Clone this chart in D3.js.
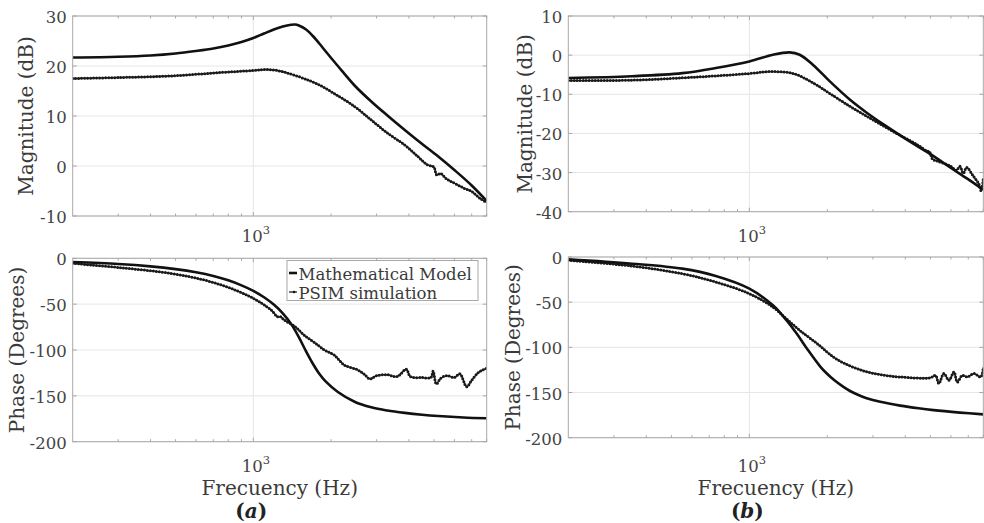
<!DOCTYPE html>
<html>
<head>
<meta charset="utf-8">
<script src="https://cdn.jsdelivr.net/npm/d3@7"></script>
<style>
  body { margin: 0; background: #fff; }
  svg { display: block; font-family: 'DejaVu Serif', serif; }
  .tick-label { fill: #444; font-size: 16.5px; }
  .ax-label { fill: #3a3a3a; font-size: 20px; }
</style>
</head>
<body>
<svg id="chart" width="984" height="523"></svg>
<script>
// frequency ticks (Hz)
const freqDomain = [200, 8000]
const minorFreqs = [300, 400, 500, 600, 700, 800, 900, 2000, 3000, 4000, 5000, 6000, 7000, 8000]
const magTicksA = [30, 20, 10, 0, -10]
const magTicksB = [10, 0, -10, -20, -30, -40]
const phaseTicks = [0, -50, -100, -150, -200]
const legendLabels = ['Mathematical Model', 'PSIM simulation']

// (a) magnitude, dB
const magModelA = [[200,21.7],[300,21.85],[400,22.1],[500,22.5],[600,23.0],[700,23.5],[800,24.1],[900,24.8],[1000,25.6],[1100,26.5],[1200,27.3],[1300,27.9],[1400,28.25],[1450,28.3],[1500,28.1],[1600,27.3],[1700,26.0],[1800,24.5],[1900,23.0],[2000,21.6],[2124,20.0],[2465,16.1],[2860,12.9],[3320,10.0],[3855,7.2],[4475,4.5],[5195,1.9],[6030,-0.9],[7000,-3.9],[8000,-7.0]]
const magPsimA = [[200,17.5],[305,17.7],[478,18.0],[747,18.7],[1000,19.1],[1115,19.3],[1238,19.1],[1395,18.4],[1570,17.5],[1770,16.4],[2055,14.5],[2465,11.9],[2860,9.2],[3320,6.5],[3855,4.2],[4330,1.9],[4730,0.2],[4900,0.0],[5000,-0.2],[5130,-1.8],[5300,-1.5],[5600,-2.6],[6030,-3.5],[6570,-4.5],[7000,-5.1],[7550,-6.5],[8000,-7.3]]
// (a) phase, degrees
const phModelA = [[200,-4.0],[300,-6.2],[400,-8.8],[500,-11.8],[600,-15.2],[700,-19.2],[800,-24],[900,-29.5],[1000,-35.5],[1100,-42.5],[1200,-50.5],[1300,-60],[1400,-71.5],[1500,-86],[1600,-101.5],[1700,-115],[1800,-126],[1900,-134],[2124,-145.8],[2465,-156.4],[2860,-162.5],[3300,-166],[3855,-168.6],[4500,-170.6],[5195,-172],[6500,-173.6],[8000,-174.5]]
const phPsimA = [[200,-5.5],[305,-10.2],[478,-16.4],[644,-23.6],[817,-32.7],[1000,-43.6],[1172,-56.4],[1238,-63.6],[1280,-64],[1317,-67.3],[1450,-74.5],[1570,-83.6],[1720,-91.6],[1885,-100],[2055,-105.5],[2250,-116.4],[2540,-121.8],[2700,-127],[2820,-131.5],[3000,-128],[3300,-127],[3600,-129],[3910,-121],[4050,-129],[4500,-130],[4870,-130],[4960,-123],[5110,-137],[5300,-131],[5600,-128],[6000,-130],[6300,-126],[6690,-140],[7000,-133],[7400,-125],[7700,-122],[8000,-120]]

// (b) magnitude, dB
const magModelB = [[200,-5.85],[352,-5.4],[551,-4.6],[742,-3.3],[1000,-1.6],[1233,0.1],[1430,0.7],[1564,0.1],[1762,-2.5],[2045,-6.7],[2447,-11.4],[2838,-14.7],[3295,-17.7],[3822,-20.5],[4433,-23.2],[5140,-25.8],[5962,-28.7],[6914,-31.5],[8000,-34.4]]
const magPsimB = [[200,-6.5],[352,-6.4],[551,-5.8],[742,-5.3],[1000,-4.7],[1210,-4.2],[1480,-4.7],[1762,-7.1],[2045,-9.8],[2447,-13.1],[2838,-15.6],[3295,-18.1],[3822,-20.5],[4433,-22.8],[4847,-24.5],[4950,-24.6],[5100,-26.6],[5340,-27.1],[5962,-28.3],[6300,-29.4],[6500,-28.4],[6700,-30.2],[6900,-28.7],[7300,-30.8],[7700,-33],[7850,-34.7],[8000,-31.5]]
// (b) phase, degrees
const phModelB = [[200,-2.6],[352,-7.4],[551,-12.9],[742,-21],[1000,-35],[1233,-53.5],[1390,-70],[1525,-85],[1670,-101.5],[1885,-121.8],[2000,-129.5],[2130,-136.5],[2300,-143.5],[2447,-148.3],[2650,-153],[2838,-156.3],[3200,-160.3],[3822,-164.5],[4500,-167.5],[5140,-169.5],[6500,-172.2],[8000,-174.2]]
const phPsimB = [[200,-3.7],[352,-10],[551,-18.5],[742,-27.7],[1000,-40.6],[1233,-55.4],[1390,-68.3],[1564,-81.2],[1830,-96],[2130,-111.5],[2447,-120.5],[2838,-127],[3295,-130.8],[3822,-132.8],[5000,-133.6],[5230,-131],[5388,-140],[5636,-129],[5894,-136.5],[6163,-127.3],[6350,-138.4],[6640,-131],[6943,-132.8],[7365,-129],[7820,-132.8],[8000,-121.8]]

const svg = d3.select('#chart')

const panels = [
	{ id: 'ma', x0: 72.7, x1: 486.7, y0: 16, y1: 216, yDom: [-10, 30], ticks: magTicksA, label: 'Magnitude (dB)', labelX: 33, model: magModelA, psim: magPsimA, xTickY: 242 },
	{ id: 'pa', x0: 72.7, x1: 486.7, y0: 258.3, y1: 441.7, yDom: [-200, 0], ticks: phaseTicks, label: 'Phase (Degrees)', labelX: 24, model: phModelA, psim: phPsimA, xTickY: 472, legend: true, xTitle: true, tag: 'a' },
	{ id: 'mb', x0: 568.3, x1: 983.3, y0: 16, y1: 211.7, yDom: [-40, 10], ticks: magTicksB, label: 'Magnitude (dB)', labelX: 532, model: magModelB, psim: magPsimB, xTickY: 242 },
	{ id: 'pb', x0: 568.3, x1: 983.3, y0: 257, y1: 437.7, yDom: [-200, 0], ticks: phaseTicks, label: 'Phase (Degrees)', labelX: 520, model: phModelB, psim: phPsimB, xTickY: 472, xTitle: true, tag: 'b' }
]

const drawPanel = p => {
	const x = d3.scaleLog().domain(freqDomain).range([p.x0, p.x1])
	const y = d3.scaleLinear().domain(p.yDom).range([p.y1, p.y0])
	const g = svg.append('g')

	g.append('clipPath').attr('id', 'clip-' + p.id)
		.append('rect')
		.attr('x', p.x0).attr('y', p.y0)
		.attr('width', p.x1 - p.x0).attr('height', p.y1 - p.y0)

	// grid
	g.selectAll('line.gy').data(p.ticks).join('line')
		.attr('x1', p.x0).attr('x2', p.x1)
		.attr('y1', d => y(d)).attr('y2', d => y(d))
		.attr('stroke', '#e6e6e6').attr('stroke-width', 1)
	g.append('line')
		.attr('x1', x(1000)).attr('x2', x(1000))
		.attr('y1', p.y0).attr('y2', p.y1)
		.attr('stroke', '#e6e6e6').attr('stroke-width', 1)

	const line = d3.line()
		.x(d => x(d[0]))
		.y(d => y(d[1]))
		.curve(d3.curveCatmullRom.alpha(0.5))

	const curves = g.append('g').attr('clip-path', `url(#clip-${p.id})`)
	// PSIM: thin line with beads
	curves.append('path')
		.attr('d', line(p.psim))
		.attr('fill', 'none').attr('stroke', '#1a1a1a').attr('stroke-width', 1.3)
	curves.append('path')
		.attr('d', line(p.psim))
		.attr('fill', 'none').attr('stroke', '#1a1a1a').attr('stroke-width', 3)
		.attr('stroke-linecap', 'round').attr('stroke-dasharray', '0,3')
	// model
	curves.append('path')
		.attr('d', line(p.model))
		.attr('fill', 'none').attr('stroke', '#111').attr('stroke-width', 2.6)

	// box
	g.append('rect')
		.attr('x', p.x0).attr('y', p.y0)
		.attr('width', p.x1 - p.x0).attr('height', p.y1 - p.y0)
		.attr('fill', 'none').attr('stroke', '#a8a8a8').attr('stroke-width', 1)

	// y ticks, both sides, inward
	g.selectAll('path.yt').data(p.ticks).join('path')
		.attr('d', d => `M${p.x0},${y(d)}h4M${p.x1},${y(d)}h-4`)
		.attr('stroke', '#a8a8a8')
	// x ticks, top and bottom
	g.selectAll('path.xt').data(minorFreqs.concat([1000])).join('path')
		.attr('d', d => {
			const l = d === 1000 ? 4 : 2.5
			return `M${x(d)},${p.y0}v${l}M${x(d)},${p.y1}v${-l}`
		})
		.attr('stroke', '#a8a8a8')

	g.selectAll('text.yl').data(p.ticks).join('text')
		.attr('class', 'tick-label')
		.attr('x', p.x0 - 6).attr('y', d => y(d) + 7)
		.attr('text-anchor', 'end')
		.text(d => d)

	const xt = g.append('text').attr('class', 'tick-label')
		.attr('x', x(1000) + 2.5).attr('y', p.xTickY)
		.attr('text-anchor', 'middle')
	xt.append('tspan').text('10')
	xt.append('tspan').attr('dy', -8).attr('font-size', '11.5px').text('3')

	g.append('text').attr('class', 'ax-label')
		.attr('transform', `translate(${p.labelX},${(p.y0 + p.y1) / 2}) rotate(-90)`)
		.attr('text-anchor', 'middle')
		.text(p.label)

	if (p.xTitle) {
		g.append('text').attr('class', 'ax-label')
			.attr('x', (p.x0 + p.x1) / 2).attr('y', 495)
			.attr('text-anchor', 'middle')
			.text('Frecuency (Hz)')
		g.append('text')
			.attr('x', x(1000) - 2).attr('y', 518)
			.attr('text-anchor', 'middle')
			.attr('font-size', '20px').attr('font-weight', 'bold')
			.attr('fill', '#222')
			.text('(')
			.append('tspan').attr('font-style', 'italic').text(p.tag)
			.clone().attr('font-style', 'normal').text(')')
	}

	if (p.legend) {
		const lg = g.append('g')
		lg.append('rect')
			.attr('x', 287).attr('y', 260.5).attr('width', 191).attr('height', 40)
			.attr('fill', '#fff').attr('stroke', '#a8a8a8')
		lg.selectAll('g.item').data(legendLabels).join('g')
			.each(function (d, i) {
				const it = d3.select(this)
				const cy = 273 + i * 19
				it.append('line')
					.attr('x1', 289).attr('x2', 297).attr('y1', cy).attr('y2', cy)
					.attr('stroke', '#111').attr('stroke-width', i === 0 ? 2.6 : 1.2)
				if (i === 1) it.append('circle').attr('cx', 294).attr('cy', cy).attr('r', 1.3).attr('fill', '#111')
				it.append('text')
					.attr('x', 298.5).attr('y', cy + 6.5)
					.attr('fill', '#3a3a3a').attr('font-size', '16.5px')
					.text(d)
			})
	}
}

panels.forEach(drawPanel)
</script>
</body>
</html>
